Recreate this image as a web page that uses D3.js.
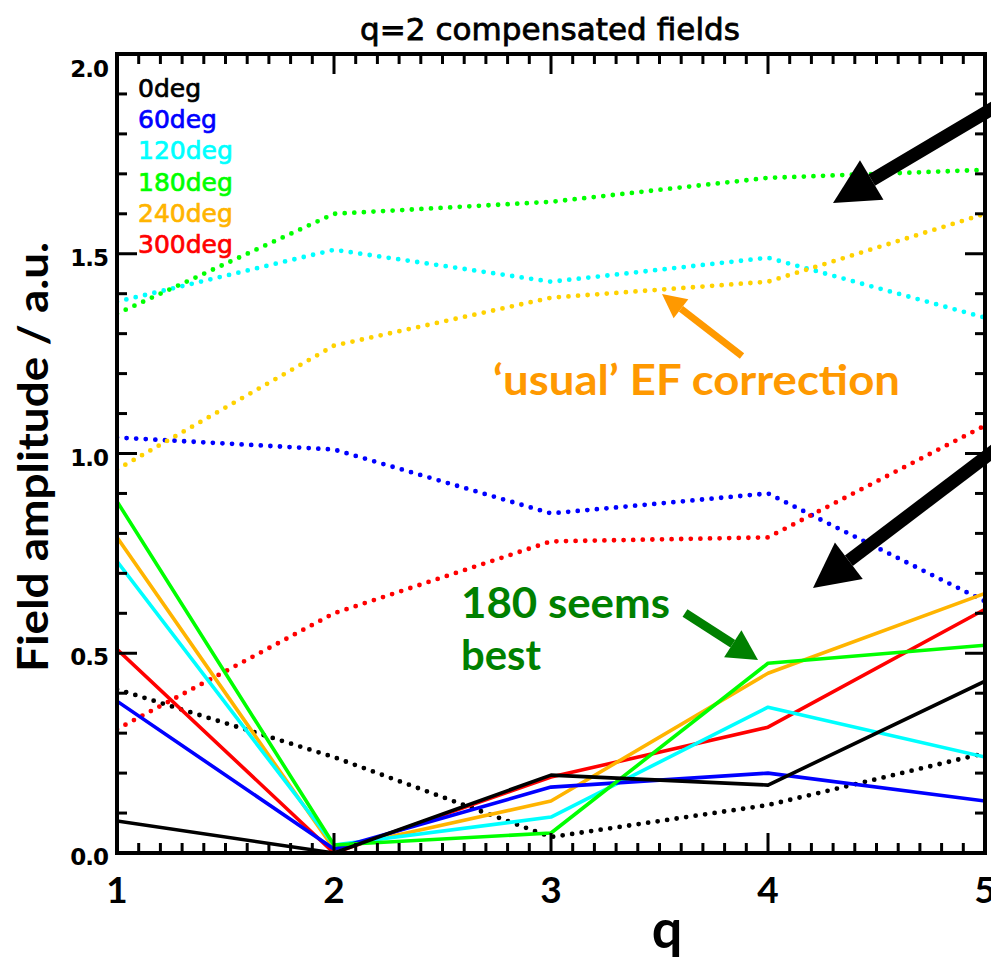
<!DOCTYPE html>
<html>
<head>
<meta charset="utf-8">
<script src="https://cdn.jsdelivr.net/npm/d3@7"></script>
<style>
  html, body { margin: 0; padding: 0; background: #fff; }
  svg { display: block; }
</style>
</head>
<body>
<script>
// q values on the x axis
const qValues = [1, 2, 3, 4, 5];
const xTickLabels = ["1", "2", "3", "4", "5"];
const yTickValues = [0.0, 0.5, 1.0, 1.5, 2.0];
const yTickLabels = ["0.0", "0.5", "1.0", "1.5", "2.0"];

// phase angles and their colours
const phases = ["0deg", "60deg", "120deg", "180deg", "240deg", "300deg"];
const solidColors = ["#000000", "#0000ff", "#00ffff", "#00ff00", "#ffb400", "#ff0000"];
const dottedColors = ["#000000", "#0000ff", "#00ffff", "#00ff00", "#ffd200", "#ff0000"];

// uncompensated field amplitude (dotted)
const dotted0 = [0.41, 0.24, 0.04, 0.12, 0.25];
const dotted60 = [1.04, 1.01, 0.85, 0.90, 0.63];
const dotted120 = [1.38, 1.51, 1.43, 1.49, 1.34];
const dotted180 = [1.35, 1.60, 1.63, 1.69, 1.71];
const dotted240 = [0.96, 1.27, 1.39, 1.43, 1.60];
const dotted300 = [0.31, 0.60, 0.78, 0.79, 1.07];

// q=2 compensated field amplitude (solid)
const solid0 = [0.08, 0.00, 0.195, 0.17, 0.43];
const solid60 = [0.38, 0.01, 0.165, 0.20, 0.13];
const solid120 = [0.73, 0.02, 0.09, 0.365, 0.24];
const solid180 = [0.88, 0.02, 0.05, 0.475, 0.52];
const solid240 = [0.79, 0.01, 0.13, 0.45, 0.65];
const solid300 = [0.51, 0.00, 0.19, 0.315, 0.61];

const dottedSeries = [dotted0, dotted60, dotted120, dotted180, dotted240, dotted300];
const solidSeries = [solid0, solid60, solid120, solid180, solid240, solid300];

const W = 991, H = 963;
const plot = { left: 117, right: 985, top: 54, bottom: 853 };

const svg = d3.select("body").append("svg")
  .attr("width", W).attr("height", H)
  .style("background", "#fff");

const x = d3.scaleLinear().domain([1, 5]).range([plot.left, plot.right]);
const y = d3.scaleLinear().domain([0, 2]).range([plot.bottom, plot.top]);

const hershey = "'DejaVu Sans', sans-serif";
const gothic = "'Lato', 'Open Sans', sans-serif";

svg.append("defs").append("clipPath").attr("id", "plotclip")
  .append("rect")
  .attr("x", plot.left).attr("y", plot.top)
  .attr("width", plot.right - plot.left).attr("height", plot.bottom - plot.top);

// data lines
const line = d3.line().x((d, i) => x(qValues[i])).y(d => y(d));
const lines = svg.append("g").attr("clip-path", "url(#plotclip)");

dottedSeries.forEach((s, i) => {
  lines.append("path")
    .attr("d", line(s))
    .attr("fill", "none")
    .attr("stroke", dottedColors[i])
    .attr("stroke-width", 4.8)
    .attr("stroke-linecap", "round")
    .attr("stroke-dasharray", "0 9.6");
});

const drawOrder = [5, 4, 2, 1, 3, 0];
drawOrder.forEach(i => {
  lines.append("path")
    .attr("d", line(solidSeries[i]))
    .attr("fill", "none")
    .attr("stroke", solidColors[i])
    .attr("stroke-width", 3.6)
    .attr("stroke-linejoin", "round");
});

// axes: inward ticks on all four sides
const axisW = 4;
const majorLen = 20, minorLen = 10;
const gx = svg.append("g");
svg.append("rect")
  .attr("x", plot.left).attr("y", plot.top)
  .attr("width", plot.right - plot.left).attr("height", plot.bottom - plot.top)
  .attr("fill", "none").attr("stroke", "#000").attr("stroke-width", axisW);

const xMinor = d3.range(10, 51).map(v => v / 10);
xMinor.forEach(v => {
  const major = Math.abs(v - Math.round(v)) < 1e-6;
  const len = major ? majorLen : minorLen;
  gx.append("line").attr("x1", x(v)).attr("x2", x(v))
    .attr("y1", plot.bottom).attr("y2", plot.bottom - len)
    .attr("stroke", "#000").attr("stroke-width", 3);
  gx.append("line").attr("x1", x(v)).attr("x2", x(v))
    .attr("y1", plot.top).attr("y2", plot.top + len)
    .attr("stroke", "#000").attr("stroke-width", 3);
});
const yMinor = d3.range(0, 21).map(v => v / 10);
yMinor.forEach(v => {
  const major = Math.abs(v * 2 - Math.round(v * 2)) < 1e-6;
  const len = major ? majorLen : minorLen;
  gx.append("line").attr("x1", plot.left).attr("x2", plot.left + len)
    .attr("y1", y(v)).attr("y2", y(v))
    .attr("stroke", "#000").attr("stroke-width", 3);
  gx.append("line").attr("x1", plot.right).attr("x2", plot.right - len)
    .attr("y1", y(v)).attr("y2", y(v))
    .attr("stroke", "#000").attr("stroke-width", 3);
});

// tick labels
svg.append("g").selectAll("text").data(qValues).join("text")
  .attr("x", d => x(d)).attr("y", 903)
  .attr("text-anchor", "middle")
  .attr("font-family", gothic).attr("font-weight", 700)
  .attr("font-size", 37)
  .text((d, i) => xTickLabels[i]);

svg.append("g").selectAll("text").data(yTickValues).join("text")
  .attr("x", 108)
  .attr("y", d => Math.max(y(d) + 12, 77))
  .attr("text-anchor", "end")
  .attr("font-family", hershey).attr("font-weight", 700)
  .attr("font-size", 23)
  .attr("letter-spacing", -1)
  .text((d, i) => yTickLabels[i]);

// title and axis labels
svg.append("text")
  .attr("x", 360).attr("y", 40)
  .attr("textLength", 380).attr("lengthAdjust", "spacing")
  .attr("font-family", hershey).attr("font-size", 31)
  .attr("stroke", "#000").attr("stroke-width", 0.8)
  .text("q=2 compensated fields");

svg.append("text")
  .attr("transform", "translate(48,672) rotate(-90)")
  .attr("textLength", 430).attr("lengthAdjust", "spacingAndGlyphs")
  .attr("font-family", gothic).attr("font-weight", 700)
  .attr("font-size", 42)
  .text("Field amplitude / a.u.");

svg.append("text")
  .attr("x", 667).attr("y", 948)
  .attr("text-anchor", "middle")
  .attr("font-family", gothic).attr("font-weight", 700)
  .attr("font-size", 54)
  .text("q");

// legend
const legend = svg.append("g");
phases.forEach((p, i) => {
  legend.append("text")
    .attr("x", 138).attr("y", 97 + i * 31.2)
    .attr("font-family", hershey).attr("font-size", 25)
    .attr("stroke", solidColors[i]).attr("stroke-width", 0.7)
    .attr("fill", solidColors[i])
    .text(p);
});

// annotations
function arrow(g, x1, y1, x2, y2, color, width, headLen, headW) {
  const ang = Math.atan2(y2 - y1, x2 - x1);
  const bx = x2 - headLen * Math.cos(ang), by = y2 - headLen * Math.sin(ang);
  g.append("line").attr("x1", x1).attr("y1", y1).attr("x2", bx).attr("y2", by)
    .attr("stroke", color).attr("stroke-width", width);
  const px = -Math.sin(ang) * headW / 2, py = Math.cos(ang) * headW / 2;
  g.append("polygon")
    .attr("points", [[x2, y2], [bx + px, by + py], [bx - px, by - py]].map(p => p.join(",")).join(" "))
    .attr("fill", color);
}
const ann = svg.append("g");
arrow(ann, 1000, 104, 833, 203, "#000", 13, 45, 46);
arrow(ann, 1000, 446, 813, 588, "#000", 13, 45, 46);
arrow(ann, 742, 356, 662, 294, "#ff9900", 7, 24, 24);
arrow(ann, 685, 613, 758, 660, "#008000", 9, 30, 32);

ann.append("text")
  .attr("x", 493).attr("y", 395)
  .attr("textLength", 407).attr("lengthAdjust", "spacingAndGlyphs")
  .attr("font-family", gothic).attr("font-weight", 700)
  .attr("font-size", 42).attr("fill", "#ff9900")
  .text("\u2018usual\u2019 EF correction");

ann.append("text")
  .attr("x", 461).attr("y", 618)
  .attr("textLength", 209).attr("lengthAdjust", "spacingAndGlyphs")
  .attr("font-family", gothic).attr("font-weight", 700)
  .attr("font-size", 42).attr("fill", "#008000")
  .text("180 seems");
ann.append("text")
  .attr("x", 461).attr("y", 670)
  .attr("textLength", 80).attr("lengthAdjust", "spacingAndGlyphs")
  .attr("font-family", gothic).attr("font-weight", 700)
  .attr("font-size", 42).attr("fill", "#008000")
  .text("best");
</script>
</body>
</html>
